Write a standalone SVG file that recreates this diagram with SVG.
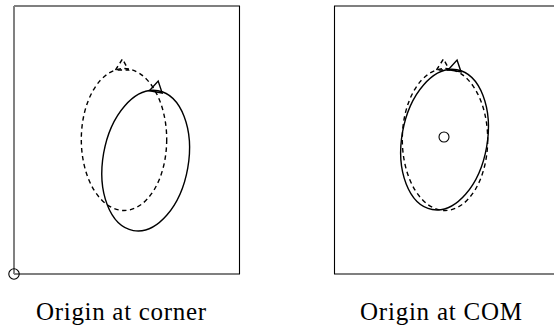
<svg xmlns="http://www.w3.org/2000/svg" xmlns:xlink="http://www.w3.org/1999/xlink" width="554" height="331" viewBox="0 0 554 331">
<style>
.frame{fill:none;stroke:#000;stroke-width:1.1}
.axis{fill:none;stroke:#808080;stroke-width:2}
.body{fill:none;stroke:#000;stroke-width:1.4}
.dash{stroke-dasharray:4.5 3.5}
.mark{fill:none;stroke:#000;stroke-width:1.1}
.cap{font-family:"Liberation Serif","Times New Roman",serif;font-size:25px;fill:#000}
</style>
<defs>
<g id="shape">
<ellipse cx="0" cy="0" rx="42.7" ry="71"/>
<polygon points="-8.5,-69.5 -1.5,-80.5 4.5,-69.5"/>
</g>
</defs>
<g id="panel-corner">
<path class="frame" d="M14,274 H239.5 V6 H14"/>
<line class="axis" x1="14" y1="6" x2="14" y2="274"/>
<circle class="mark" cx="14" cy="274" r="5.2"/>
<use xlink:href="#shape" class="body dash" transform="translate(124 139.5)"/>
<use xlink:href="#shape" class="body" transform="rotate(10 14 274) translate(124 139.5)"/>
<text class="cap" x="36" y="320" textLength="170" lengthAdjust="spacing">Origin at corner</text>
</g>
<g id="panel-com">
<path class="frame" d="M560,274 H334.5 V6 H560"/>
<circle class="mark" cx="444" cy="137" r="5"/>
<use xlink:href="#shape" class="body dash" transform="translate(445 139.5)"/>
<use xlink:href="#shape" class="body" transform="rotate(10 444 137) translate(445 139.5)"/>
<text class="cap" x="360" y="320" textLength="162" lengthAdjust="spacing">Origin at COM</text>
</g>
</svg>
